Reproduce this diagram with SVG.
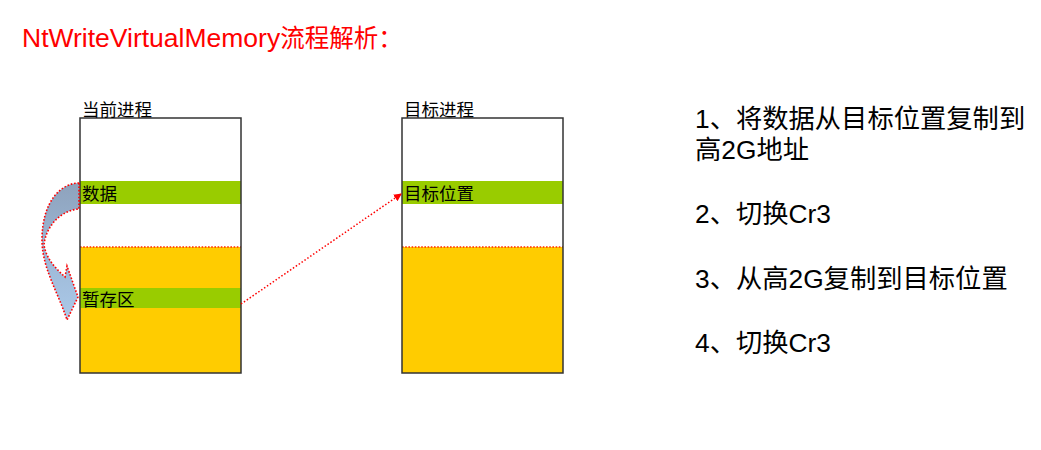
<svg xmlns="http://www.w3.org/2000/svg" width="1041" height="450" viewBox="0 0 1041 450">
  <style>
    .cjk { font-family: "Liberation Sans", "Noto Sans CJK SC", sans-serif; }
    .lbl { font-size: 17.5px; fill: #000; }
    .step { font-size: 26.3px; fill: #000; }
    .frame { fill: none; stroke: #333; stroke-width: 1.5; }
    .green { fill: #99cc00; }
    .yellow { fill: #ffcc00; }
    .split { stroke: #ff2a00; stroke-width: 1.6; stroke-dasharray: 1.6 1.6; fill: none; }
    .conn { stroke: #ff0000; stroke-width: 1.5; stroke-dasharray: 1.5 2; fill: none; }
  </style>
  <defs>
    <marker id="arr" markerWidth="8" markerHeight="8" refX="7" refY="4" orient="auto" markerUnits="userSpaceOnUse">
      <path d="M0,0 L8,4 L0,8 Z" fill="#ff0000"/>
    </marker>
    <linearGradient id="blueGrad" x1="0" y1="0" x2="0" y2="1">
      <stop offset="0" stop-color="#8ea2bc"/>
      <stop offset="0.45" stop-color="#9ab5d3"/>
      <stop offset="1" stop-color="#abc9e8"/>
    </linearGradient>
  </defs>

  <rect width="1041" height="450" fill="#fff"/>

  <text class="cjk" x="22" y="47" font-size="26.5" fill="#ff0000">NtWriteVirtualMemory<tspan font-size="24.5">流程解析：</tspan></text>

  <g id="current-process">
    <rect x="80" y="118" width="161" height="255" fill="#fff"/>
    <rect class="yellow" x="80" y="247" width="161" height="126"/>
    <rect class="green" x="80" y="181" width="161" height="23"/>
    <rect class="green" x="80" y="288" width="161" height="20"/>
    <line class="split" x1="80" y1="247" x2="241" y2="247"/>
    <rect class="frame" x="80" y="118" width="161" height="255"/>
    <text class="cjk lbl" x="82" y="116">当前进程</text>
    <text class="cjk lbl" x="82" y="200">数据</text>
    <text class="cjk lbl" x="82" y="306">暂存区</text>
  </g>

  <g id="target-process">
    <rect x="402" y="118" width="161" height="255" fill="#fff"/>
    <rect class="yellow" x="402" y="247" width="161" height="126"/>
    <rect class="green" x="402" y="181" width="161" height="23"/>
    <line class="split" x1="402" y1="247" x2="563" y2="247"/>
    <rect class="frame" x="402" y="118" width="161" height="255"/>
    <text class="cjk lbl" x="404" y="116">目标进程</text>
    <text class="cjk lbl" x="404" y="200">目标位置</text>
  </g>

  <g id="steps" class="cjk step">
    <text x="695" y="128">1、将数据从目标位置复制到</text>
    <text x="695" y="159">高2G地址</text>
    <text x="695" y="223">2、切换Cr3</text>
    <text x="695" y="288">3、从高2G复制到目标位置</text>
    <text x="695" y="352">4、切换Cr3</text>
  </g>

  <g id="connectors">
    <path d="M79,183 C62,183 42,200 42,240 C42,268 58,292 67,320 L78,297 L67,266 L65,277 C55,268 46,258 44,245 C46,225 62,210 79,209 Z" fill="url(#blueGrad)" stroke="#ff0000" stroke-width="1.6" stroke-dasharray="1.6 1.8"/>
    <line class="conn" x1="241" y1="304" x2="401" y2="194" marker-end="url(#arr)"/>
  </g>
</svg>
